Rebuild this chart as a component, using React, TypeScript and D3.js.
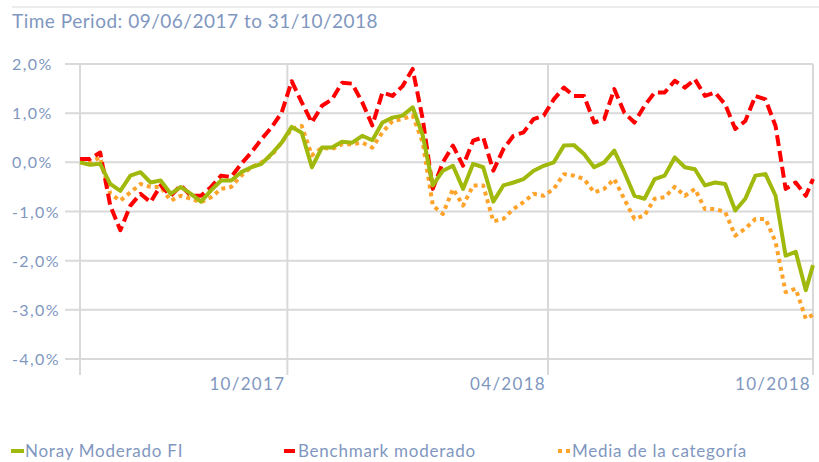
import React from "react";
import * as d3 from "d3";

// weekly samples from 09/06/2017, last point 31/10/2018 (values in %)
const startDate = new Date(2017, 5, 9);
const endDate = new Date(2018, 9, 31);

const noray = [
  0.0, -0.05, -0.03, -0.44, -0.58, -0.27, -0.2, -0.41, -0.37, -0.64,
  -0.5, -0.64, -0.8, -0.57, -0.37, -0.37, -0.2, -0.1, -0.03, 0.17,
  0.4, 0.72, 0.6, -0.1, 0.3, 0.3, 0.42, 0.4, 0.54, 0.45,
  0.81, 0.91, 0.95, 1.12, 0.55, -0.47, -0.17, -0.07, -0.54, -0.03,
  -0.1, -0.8, -0.47, -0.41, -0.34, -0.17, -0.07, 0.0, 0.34, 0.35,
  0.17, -0.1, 0.0, 0.24, -0.2, -0.68, -0.74, -0.34, -0.27, 0.1,
  -0.1, -0.14, -0.47, -0.41, -0.44, -0.98, -0.74, -0.27, -0.24, -0.68,
  -1.9, -1.82, -2.6, -2.09,
];

const benchmark = [
  0.07, 0.07, 0.2, -0.88, -1.38, -0.88, -0.64, -0.81, -0.47, -0.68,
  -0.47, -0.68, -0.68, -0.5, -0.27, -0.3, -0.03, 0.2, 0.47, 0.71,
  1.01, 1.65, 1.22, 0.81, 1.15, 1.28, 1.62, 1.6, 1.22, 0.75,
  1.42, 1.35, 1.55, 1.9, 0.88, -0.54, 0.0, 0.34, -0.07, 0.44,
  0.51, -0.17, 0.27, 0.54, 0.61, 0.88, 0.95, 1.28, 1.52, 1.35,
  1.35, 0.81, 0.88, 1.49, 1.01, 0.81, 1.15, 1.42, 1.42, 1.66,
  1.52, 1.69, 1.35, 1.42, 1.18, 0.68, 0.84, 1.35, 1.28, 0.74,
  -0.54, -0.41, -0.68, -0.34,
];

const media = [
  0.0, 0.0, 0.1, -0.64, -0.78, -0.61, -0.44, -0.5, -0.5, -0.78,
  -0.68, -0.74, -0.81, -0.71, -0.54, -0.5, -0.27, -0.1, 0.0, 0.14,
  0.4, 0.68, 0.74, 0.14, 0.3, 0.27, 0.37, 0.37, 0.4, 0.3,
  0.61, 0.84, 0.88, 0.95, 0.4, -0.88, -1.05, -0.54, -0.88, -0.47,
  -0.47, -1.2, -1.15, -0.95, -0.81, -0.64, -0.68, -0.54, -0.24, -0.27,
  -0.34, -0.61, -0.54, -0.34, -0.75, -1.15, -1.08, -0.74, -0.71, -0.5,
  -0.68, -0.54, -0.95, -0.95, -1.01, -1.49, -1.35, -1.15, -1.15, -1.62,
  -2.64, -2.57, -3.18, -3.1,
];

const yTicks = [2, 1, 0, -1, -2, -3, -4];
const xTicks = [new Date(2017, 9, 31), new Date(2018, 3, 30), new Date(2018, 9, 31)];
const xTickLabels = ["10/2017", "04/2018", "10/2018"];

const legendItems = ["Noray Moderado FI", "Benchmark moderado", "Media de la categoría"];

const textColor = "#7f97bf";
const gridColor = "#d9d9d9";
const font = "Lato, 'Open Sans', sans-serif";

export default function App() {
  const dates = [...d3.timeDay.range(startDate, endDate, 7), endDate];

  const x = d3.scaleTime().domain([startDate, endDate]).range([80, 813]);
  const y = d3.scaleLinear().domain([-4, 2]).range([359, 64]);

  const line = d3
    .line<number>()
    .x((_, i) => x(dates[i]))
    .y((d) => y(d));

  const fmt = (v: number) => v.toFixed(1).replace(".", ",") + "%";

  const series = [
    { name: legendItems[2], data: media, color: "#ffa32b", dash: "4,4", lx: 558 },
    { name: legendItems[1], data: benchmark, color: "#ff0000", dash: "11,5", lx: 284 },
    { name: legendItems[0], data: noray, color: "#a0b90c", dash: null, lx: 11 },
  ];

  return (
    <svg
      width={819}
      height={462}
      style={{ position: "absolute", left: 0, top: 0, background: "#fff" }}
      fontFamily={font}
    >
      <line x1={12} x2={819} y1={7} y2={7} stroke={gridColor} strokeWidth={1} />
      <text x={12} y={28} fontSize={19} letterSpacing={0.5} fill={textColor}>
        Time Period: 09/06/2017 to 31/10/2018
      </text>

      {/* horizontal grid */}
      {yTicks.map((t) => (
        <g key={t}>
          <line x1={65} x2={813} y1={y(t)} y2={y(t)} stroke={gridColor} strokeWidth={2} />
          <text x={12} y={y(t) + 6} fontSize={16} letterSpacing={1.4} fill={textColor}>
            {fmt(t)}
          </text>
        </g>
      ))}

      {/* vertical axis and grid */}
      <line x1={x(startDate)} x2={x(startDate)} y1={64} y2={375} stroke={gridColor} strokeWidth={2} />
      {xTicks.map((t, i) => (
        <g key={i}>
          <line x1={x(t)} x2={x(t)} y1={64} y2={375} stroke={gridColor} strokeWidth={2} />
          <text x={x(t) - 2} y={390} fontSize={17} letterSpacing={1.3} fill={textColor} textAnchor="end">
            {xTickLabels[i]}
          </text>
        </g>
      ))}

      {series.map((s) => (
        <path
          key={s.name}
          d={line(s.data) || ""}
          fill="none"
          stroke={s.color}
          strokeWidth={4}
          strokeDasharray={s.dash || undefined}
          strokeLinejoin="round"
        />
      ))}

      {/* legend */}
      {series.map((s) => (
        <g key={"lg" + s.name}>
          <line
            x1={s.lx}
            x2={s.lx + 13}
            y1={451}
            y2={451}
            stroke={s.color}
            strokeWidth={4}
            strokeDasharray={s.dash || undefined}
          />
          <text x={s.lx + 14} y={457} fontSize={17} letterSpacing={0.75} fill={textColor}>
            {s.name}
          </text>
        </g>
      ))}
    </svg>
  );
}
